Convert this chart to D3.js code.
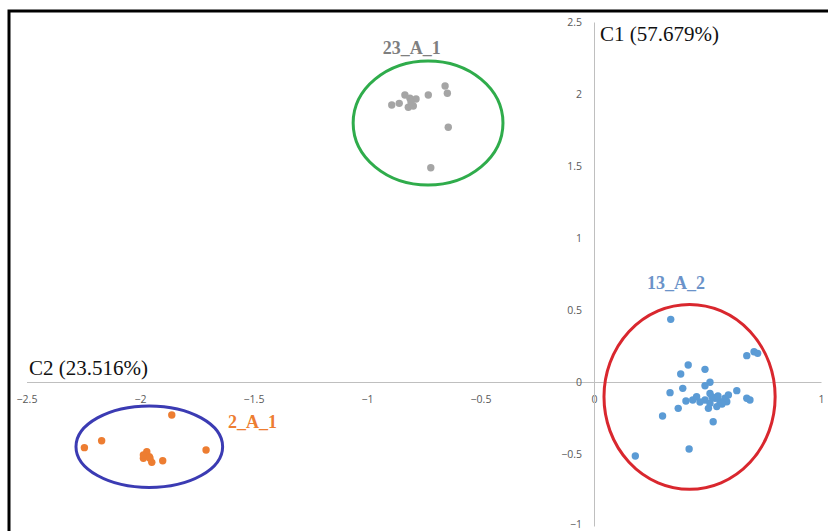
<!DOCTYPE html>
<html>
<head>
<meta charset="utf-8">
<script src="https://cdn.jsdelivr.net/npm/d3@7"></script>
<style>
  body { margin: 0; background: #fff; }
  .tick text { font-family: "Open Sans", "Liberation Sans", sans-serif; font-size: 10.5px; fill: #595959; }
  .lbl { font-family: "Liberation Serif", "Times New Roman", serif; }
</style>
</head>
<body>
<div id="chart"></div>
<script>
// PCA scores: [C2, C1]
var group23A1 = [
  [-0.891, 1.924], [-0.858, 1.935], [-0.833, 1.993], [-0.811, 1.970], [-0.784, 1.965],
  [-0.818, 1.908], [-0.796, 1.917], [-0.806, 1.944], [-0.730, 1.993], [-0.656, 2.056],
  [-0.646, 2.005], [-0.642, 1.769], [-0.719, 1.488]
];
var group2A1 = [
  [-1.860, -0.229], [-2.169, -0.408], [-2.245, -0.456], [-1.709, -0.472], [-1.970, -0.484],
  [-1.985, -0.530], [-1.959, -0.519], [-1.948, -0.558], [-1.900, -0.547], [-1.985, -0.507],
  [-1.956, -0.530]
];
var group13A2 = [
  [0.338, 0.435], [0.673, 0.183], [0.705, 0.210], [0.721, 0.199], [0.415, 0.118],
  [0.489, 0.088], [0.382, 0.056], [0.511, -0.002], [0.489, -0.026], [0.391, -0.044],
  [0.335, -0.074], [0.629, -0.060], [0.405, -0.132], [0.435, -0.125], [0.452, -0.102],
  [0.511, -0.079], [0.489, -0.125], [0.511, -0.148], [0.533, -0.113], [0.555, -0.137],
  [0.577, -0.113], [0.592, -0.090], [0.585, -0.137], [0.504, -0.183], [0.541, -0.171],
  [0.673, -0.113], [0.687, -0.125], [0.371, -0.183], [0.302, -0.236], [0.525, -0.276],
  [0.419, -0.465], [0.182, -0.514], [0.467, -0.139], [0.520, -0.104], [0.564, -0.153],
  [0.546, -0.097]
];
// group ellipses: centre x, centre y, radius x, radius y
var ellipses = [
  {name: "23_A_1", c: [-0.731, 1.799], r: [0.330, 0.431], stroke: "#2fac4b"},
  {name: "2_A_1", c: [-1.959, -0.449], r: [0.323, 0.283], stroke: "#3b3bb3"},
  {name: "13_A_2", c: [0.421, -0.103], r: [0.377, 0.642], stroke: "#d9272e"}
];
var xTicks = [-2.5, -2, -1.5, -1, -0.5, 0, 1];
var yTicks = [-1, -0.5, 0, 0.5, 1, 1.5, 2, 2.5];

var width = 828, height = 531;

var svg = d3.select("#chart").append("svg")
    .attr("width", width)
    .attr("height", height);

var xScale = d3.scaleLinear().domain([-2.5, 1]).range([26.5, 821]);
var yScale = d3.scaleLinear().domain([-1, 2.5]).range([526, 22]);

// frame
svg.append("rect")
    .attr("x", 9).attr("y", 11)
    .attr("width", width + 20).attr("height", height + 20)
    .attr("fill", "none")
    .attr("stroke", "#000")
    .attr("stroke-width", 3);

var xAxis = d3.axisBottom(xScale)
    .tickValues(xTicks)
    .tickSize(0)
    .tickPadding(14)
    .tickFormat(d3.format(""));
var yAxis = d3.axisLeft(yScale)
    .tickValues(yTicks)
    .tickSize(0)
    .tickPadding(12)
    .tickFormat(d3.format(""));

var gx = svg.append("g")
    .attr("class", "x axis")
    .attr("transform", `translate(0,${yScale(0)})`)
    .call(xAxis);
var gy = svg.append("g")
    .attr("class", "y axis")
    .attr("transform", `translate(${xScale(0)},0)`)
    .call(yAxis);
gx.select(".domain").attr("stroke", "#bfbfbf");
gy.select(".domain").attr("stroke", "#bfbfbf");
// keep the lowest label inside the picture
gy.selectAll(".tick text").filter(d => d === -1).attr("dy", "0.1em");

// axis titles
svg.append("text").attr("class", "lbl")
    .attr("x", 600).attr("y", 41)
    .attr("font-size", 21).attr("fill", "#111")
    .text("C1 (57.679%)");
svg.append("text").attr("class", "lbl")
    .attr("x", 29).attr("y", 375)
    .attr("font-size", 21).attr("fill", "#111")
    .text("C2 (23.516%)");

function drawPoints(data, color) {
  svg.append("g").selectAll("circle")
      .data(data)
      .enter()
      .append("circle")
      .attr("cx", d => xScale(d[0]))
      .attr("cy", d => yScale(d[1]))
      .attr("r", 3.7)
      .attr("fill", color);
}
drawPoints(group23A1, "#a5a5a5");
drawPoints(group2A1, "#ed7d31");
drawPoints(group13A2, "#5b9bd5");

svg.selectAll(".ring")
    .data(ellipses)
    .enter()
    .append("ellipse")
    .attr("class", "ring")
    .attr("cx", d => xScale(d.c[0]))
    .attr("cy", d => yScale(d.c[1]))
    .attr("rx", d => xScale(d.c[0] + d.r[0]) - xScale(d.c[0]))
    .attr("ry", d => yScale(d.c[1]) - yScale(d.c[1] + d.r[1]))
    .attr("fill", "none")
    .attr("stroke", d => d.stroke)
    .attr("stroke-width", 3);

// group names
svg.append("text").attr("class", "lbl")
    .attr("x", 411.7).attr("y", 54).attr("text-anchor", "middle")
    .attr("font-size", 18).attr("font-weight", "bold").attr("fill", "#7f7f7f")
    .text("23_A_1");
svg.append("text").attr("class", "lbl")
    .attr("x", 228).attr("y", 428)
    .attr("font-size", 18).attr("font-weight", "bold").attr("fill", "#ed7d31")
    .text("2_A_1");
svg.append("text").attr("class", "lbl")
    .attr("x", 647).attr("y", 289)
    .attr("font-size", 18).attr("font-weight", "bold").attr("fill", "#6b93c9")
    .text("13_A_2");
</script>
</body>
</html>
